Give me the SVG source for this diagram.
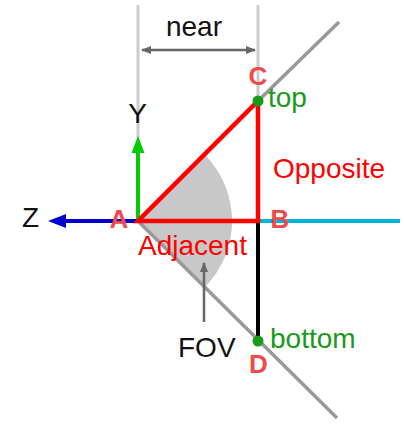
<svg xmlns="http://www.w3.org/2000/svg" width="404" height="426" viewBox="0 0 404 426">
  <style>
    .t { font-family: "Liberation Sans", Arial, sans-serif; font-size: 28px; }
    .lbl { font-family: "Liberation Sans", Arial, sans-serif; font-size: 26px; font-weight: bold; fill: #f04a4a; text-anchor: middle; }
    .guide { stroke: #cccccc; stroke-width: 3; fill: none; }
    .ray { stroke: #999999; stroke-width: 3.5; fill: none; }
    .red { stroke: #ff0000; stroke-width: 4.5; fill: none; stroke-linejoin: miter; }
    .grn { fill: #1a9a1a; }
  </style>
  <defs>
    <marker id="ah" viewBox="0 0 10 10" refX="9" refY="5" markerWidth="10" markerHeight="10" markerUnits="userSpaceOnUse" orient="auto-start-reverse">
      <path d="M0,1 L10,5 L0,9 Z" fill="#666666"/>
    </marker>
  </defs>

  <g id="fov-wedge">
    <path d="M138,221 L204.5,154.5 A94,94 0 0 1 204.5,287.5 Z" fill="#c8c8c8"/>
  </g>

  <g id="connectors">
    <line class="guide" x1="138" y1="5" x2="138" y2="221"/>
    <line class="guide" x1="258" y1="5" x2="258" y2="221"/>
    <line class="ray" x1="258" y1="101" x2="339" y2="22"/>
    <line class="ray" x1="138" y1="221" x2="337" y2="418"/>
    <line x1="258" y1="221" x2="400" y2="221" stroke="#00b4d8" stroke-width="4"/>
    <line x1="138" y1="221" x2="62" y2="221" stroke="#0000cc" stroke-width="4"/>
    <path d="M48,221 L66,214 L66,228 Z" fill="#0000cc"/>
    <line x1="138" y1="221" x2="138" y2="150" stroke="#00cc00" stroke-width="4"/>
    <path d="M138,136 L131.5,153 L144.5,153 Z" fill="#00cc00"/>
    <line x1="258" y1="221" x2="258" y2="341" stroke="#000000" stroke-width="4"/>
    <line x1="142" y1="50" x2="255" y2="50" stroke="#666666" stroke-width="2.5" marker-start="url(#ah)" marker-end="url(#ah)"/>
    <line x1="204" y1="322" x2="204" y2="263" stroke="#666666" stroke-width="2.5" marker-end="url(#ah)"/>
  </g>

  <g id="triangle">
    <path class="red" d="M138,221 L258,221 L258,101 Z"/>
  </g>

  <g id="node-A"><text class="lbl" x="119" y="228">A</text></g>
  <g id="node-B"><text class="lbl" x="280" y="228">B</text></g>
  <g id="node-C">
    <circle class="grn" cx="258" cy="101" r="5.5"/>
    <text class="lbl" x="258" y="85">C</text>
    <text class="t" x="268" y="107" fill="#1a9a1a">top</text>
  </g>
  <g id="node-D">
    <circle class="grn" cx="258" cy="341" r="5.5"/>
    <text class="lbl" x="258.5" y="373">D</text>
    <text class="t" x="270" y="348" fill="#1a9a1a">bottom</text>
  </g>

  <g id="labels">
    <text class="t" x="194" y="36" text-anchor="middle" fill="#111111">near</text>
    <text class="t" x="137.5" y="123" text-anchor="middle" fill="#111111">Y</text>
    <text class="t" x="30.5" y="227" text-anchor="middle" fill="#111111">Z</text>
    <text class="t" x="273" y="178" fill="#ff0000">Opposite</text>
    <text class="t" x="138" y="255" fill="#ff0000">Adjacent</text>
    <text class="t" x="178" y="357" fill="#111111">FOV</text>
  </g>
</svg>
